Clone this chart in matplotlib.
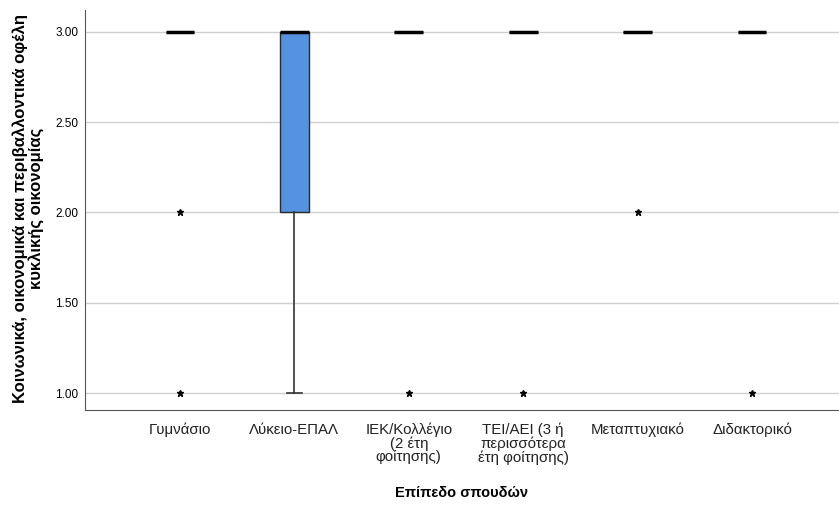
import matplotlib.pyplot as plt

plt.rcParams['font.family'] = ['Liberation Sans', 'DejaVu Sans']

categories = ['Γυμνάσιο', 'Λύκειο-ΕΠΑΛ', 'ΙΕΚ/Κολλέγιο\n(2 έτη\nφοίτησης)',
              'ΤΕΙ/ΑΕΙ (3 ή\nπερισσότερα\nέτη φοίτησης)', 'Μεταπτυχιακό', 'Διδακτορικό']
q1 = [3, 2, 3, 3, 3, 3]
median = [3, 3, 3, 3, 3, 3]
q3 = [3, 3, 3, 3, 3, 3]
whisker_low = [3, 1, 3, 3, 3, 3]
whisker_high = [3, 3, 3, 3, 3, 3]
outliers = [[2, 1], [], [1], [1], [2], [1]]

stats = []
for i in range(len(categories)):
    stats.append({'med': median[i], 'q1': q1[i], 'q3': q3[i],
                  'whislo': whisker_low[i], 'whishi': whisker_high[i],
                  'fliers': outliers[i], 'label': categories[i]})

fig = plt.figure(figsize=(8.39, 5.05), dpi=100)
ax = fig.add_axes([0.1013, 0.188, 0.8987, 0.792])

ax.bxp(stats, positions=range(len(categories)), widths=0.25, capwidths=0.125,
       patch_artist=True,
       boxprops=dict(facecolor='#5592e0', edgecolor='#2b2b2b', linewidth=1),
       medianprops=dict(color='black', linewidth=2.5),
       whiskerprops=dict(color='#333333', linewidth=1.2),
       capprops=dict(color='#333333', linewidth=1.2),
       flierprops=dict(marker='*', markersize=5, markerfacecolor='black',
                       markeredgecolor='black', linestyle='none'))

ax.set_xlim(-0.83, 5.76)
ax.set_ylim(0.906, 3.12)
ax.set_yticks([1.0, 1.5, 2.0, 2.5, 3.0])
ax.set_yticklabels(['1.00', '1.50', '2.00', '2.50', '3.00'], fontsize=8.5)
ax.set_xticks(range(len(categories)))
ax.set_xticklabels(categories, fontsize=10.8, color='#222222', linespacing=0.95)
ax.tick_params(axis='x', length=0, pad=9)
ax.tick_params(axis='y', length=0, pad=5)
ax.yaxis.grid(True, color='#d0d0d0', linewidth=1)
ax.set_axisbelow(True)
for s in ['top', 'right']:
    ax.spines[s].set_visible(False)
for s in ['left', 'bottom']:
    ax.spines[s].set_color('#555555')

ax.set_ylabel('Κοινωνικά, οικονομικά και περιβαλλοντικά οφέλη\nκυκλικής οικονομίας',
              fontsize=12, fontweight='bold', linespacing=1.0)
ax.yaxis.set_label_coords(-0.054, 0.505)
ax.set_xlabel('Επίπεδο σπουδών', fontsize=10.5, fontweight='bold', labelpad=15)

fig.savefig('out.png', dpi=100)
